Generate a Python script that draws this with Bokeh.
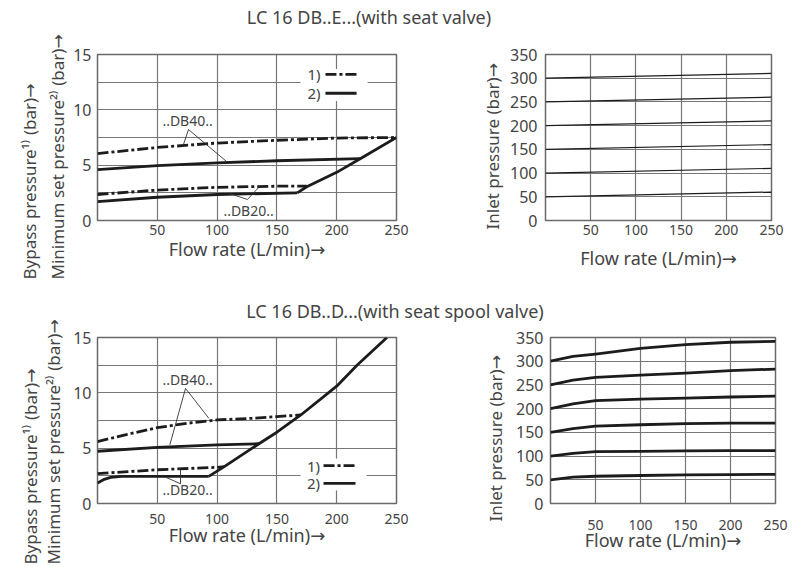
import math
from bokeh.plotting import figure
from bokeh.models import Range1d, FixedTicker, Label, BoxAnnotation, Arrow, Title
from bokeh.layouts import column, row
from bokeh.embed import file_html
from bokeh.resources import INLINE

# ---------------- data ----------------
titles = ["LC 16 DB..E...(with seat valve)", "LC 16 DB..D...(with seat spool valve)"]
x_label = "Flow rate (L/min)→"
ylab_left = ["Bypass pressure¹⁾ (bar)→", "Minimum set pressure²⁾ (bar)→"]
ylab_right = "Inlet pressure (bar)→"
flow_ticks = [50, 100, 150, 200, 250]
bypass_ticks = [0, 5, 10, 15]
bypass_grid = [2.5, 5, 7.5, 10, 12.5]
inlet_ticks = [0, 50, 100, 150, 200, 250, 300, 350]
inlet_grid = [50, 100, 150, 200, 250, 300]
flow_grid = [50, 100, 150, 200]
legend_labels = ["1)", "2)"]
db_labels = ["..DB40..", "..DB20.."]

# LC 16 DB..E... (seat valve) - bypass / minimum set pressure
e_db40_bypass_x = [0, 50, 100, 150, 200, 250]
e_db40_bypass_y = [6.05, 6.6, 7.0, 7.25, 7.45, 7.5]
e_db40_min_x = [0, 50, 100, 150, 220]
e_db40_min_y = [4.6, 4.95, 5.2, 5.4, 5.6]
e_db20_bypass_x = [0, 50, 100, 150, 175]
e_db20_bypass_y = [2.35, 2.75, 3.0, 3.1, 3.1]
e_db20_min_x = [0, 50, 100, 167]
e_db20_min_y = [1.7, 2.1, 2.35, 2.5]
e_limit_x = [167, 175, 200, 220, 250]
e_limit_y = [2.5, 3.05, 4.35, 5.6, 7.5]

# LC 16 DB..E... inlet pressure (start at 0 flow, end at 250 flow)
e_inlet_flow = [0, 250]
e_inlet_start = [50, 100, 150, 200, 250, 300]
e_inlet_end = [60, 110, 160, 210, 260, 310]

# LC 16 DB..D... (seat spool valve) - bypass / minimum set pressure
d_db40_bypass_x = [0, 25, 50, 75, 100, 130, 150, 170]
d_db40_bypass_y = [5.6, 6.25, 6.85, 7.25, 7.55, 7.7, 7.85, 8.0]
d_db40_min_x = [0, 50, 100, 135]
d_db40_min_y = [4.72, 5.08, 5.29, 5.4]
d_db20_bypass_x = [0, 50, 100, 106]
d_db20_bypass_y = [2.7, 3.05, 3.27, 3.33]
d_db20_min_x = [0, 5, 11, 20, 60, 93]
d_db20_min_y = [1.85, 2.15, 2.36, 2.45, 2.45, 2.45]
d_limit_x = [93, 106, 135, 150, 170, 193, 200, 217, 242]
d_limit_y = [2.45, 3.33, 5.4, 6.44, 8.0, 10.0, 10.6, 12.5, 15.0]

# LC 16 DB..D... inlet pressure curves
d_inlet_flow = [0, 25, 50, 100, 150, 200, 250]
d_inlet_300 = [300, 310, 315, 327, 335, 340, 342]
d_inlet_250 = [250, 260, 266, 270.5, 275, 280, 283.5]
d_inlet_200 = [200, 210, 217, 220, 222, 224.5, 226.5]
d_inlet_150 = [150, 158, 163, 166, 168.5, 169.5, 169.5]
d_inlet_100 = [100, 105.5, 109.5, 110, 111, 111.5, 111.5]
d_inlet_50 = [50, 55.5, 57.5, 59, 60.3, 61, 61.5]

# ---------------- style ----------------
FONT = "Noto Sans, DejaVu Sans"
TXT = "#444444"
GRID = "#767676"
FRAME = "#6a6a6a"
INK = "#1c1c1c"
DASHDOT = "11 3 3 3"
LW = 2.8


def base_fig(w, h, bl, br, bt, bb, ymax, yticks, ygrid, xstand=0, ystand=6, xlab_stand=0):
    p = figure(width=w, height=h, x_range=Range1d(0, 250), y_range=Range1d(0, ymax),
               output_backend="svg", toolbar_location=None,
               min_border_left=bl, min_border_right=br, min_border_top=bt, min_border_bottom=bb)
    p.background_fill_color = "white"
    p.border_fill_color = "white"
    p.outline_line_color = FRAME
    p.outline_line_width = 1.5
    p.xaxis.ticker = FixedTicker(ticks=flow_ticks)
    p.yaxis.ticker = FixedTicker(ticks=yticks)
    p.xgrid.ticker = FixedTicker(ticks=flow_grid)
    p.ygrid.ticker = FixedTicker(ticks=ygrid)
    p.grid.grid_line_color = GRID
    p.grid.grid_line_width = 1.2
    for ax in (p.xaxis, p.yaxis):
        ax.axis_line_color = None
        ax.major_tick_line_color = None
        ax.minor_tick_line_color = None
        ax.major_tick_out = 0
        ax.major_tick_in = 0
        ax.minor_tick_out = 0
        ax.minor_tick_in = 0
        ax.major_label_text_font = FONT
        ax.major_label_text_color = TXT
    p.xaxis.major_label_text_font_size = "14px"
    p.yaxis.major_label_text_font_size = "16px"
    p.xaxis.major_label_standoff = xstand
    p.yaxis.major_label_standoff = ystand
    p.xaxis.axis_label = x_label
    p.xaxis.axis_label_text_font = FONT
    p.xaxis.axis_label_text_font_size = "18px"
    p.xaxis.axis_label_text_font_style = "normal"
    p.xaxis.axis_label_text_color = TXT
    p.xaxis.axis_label_standoff = xlab_stand
    return p


def ylabels(p, texts, offset, standoffs, size="17px"):
    # texts listed from the frame outwards
    for t, so in zip(texts, standoffs):
        p.add_layout(Title(text=t, align="left", offset=offset, standoff=so,
                           text_font=FONT, text_font_size=size, text_font_style="normal",
                           text_color=TXT), "left")


def legend(p, box, x_text, x0, x1, ys):
    p.add_layout(BoxAnnotation(left=box[0], right=box[1], bottom=box[2], top=box[3],
                               fill_color="white", fill_alpha=1.0, line_alpha=0,
                               level="underlay"))
    for lab, yy, dash in zip(legend_labels, ys, [DASHDOT, "solid"]):
        p.add_layout(Arrow(x_start=x0, y_start=yy, x_end=x1, y_end=yy, start=None, end=None,
                           line_width=LW, line_color=INK, line_dash=dash))
        p.add_layout(Label(x=x_text, y=yy, text=lab, text_align="right", text_baseline="middle",
                           text_font=FONT, text_font_size="15px", text_color=TXT))


def note(p, x, y, text):
    p.add_layout(Label(x=x, y=y, text=text, text_align="center", text_baseline="middle",
                       text_font=FONT, text_font_size="14px", text_color=TXT))


def blank(w, h):
    t = figure(width=w, height=h, x_range=Range1d(0, w), y_range=Range1d(0, h),
               x_axis_type=None, y_axis_type=None, output_backend="svg",
               toolbar_location=None, min_border=0)
    t.outline_line_color = None
    return t


def title_strip(w, h, text, cx, cy):
    t = blank(w, h)
    t.add_layout(Label(x=cx, y=cy, text=text, text_align="center", text_baseline="middle",
                       text_font=FONT, text_font_size="18px", text_color=TXT))
    return t


# ---------------- top-left ----------------
p1 = base_fig(440, 255, 97, 44, 25, 64, 15, bypass_ticks, bypass_grid, xstand=4, ystand=6, xlab_stand=-1)
p1.line(e_db40_bypass_x, e_db40_bypass_y, line_width=LW, color=INK, line_dash=DASHDOT)
p1.line(e_db20_bypass_x, e_db20_bypass_y, line_width=LW, color=INK, line_dash=DASHDOT)
p1.line(e_db40_min_x, e_db40_min_y, line_width=LW, color=INK)
p1.line(e_db20_min_x, e_db20_min_y, line_width=LW, color=INK)
p1.line(e_limit_x, e_limit_y, line_width=LW, color=INK, line_join="round")
p1.line([71.9, 76.1, 107.9], [6.87, 8.22, 5.33], line_width=0.9, color="#333333")
p1.line([110.4, 125.4, 135.5], [2.44, 1.9, 3.07], line_width=0.9, color="#333333")
note(p1, 75.3, 9.0, db_labels[0])
note(p1, 126.3, 0.9, db_labels[1])
legend(p1, (169.7, 225.8, 10.8, 13.7), 186.5, 190.6, 216.6, [13.2, 11.5])
ylabels(p1, [ylab_left[1], ylab_left[0]], -59, [4, 2])

# ---------------- top-right ----------------
p2 = base_fig(359, 255, 105, 28, 14, 63, 350, inlet_ticks, inlet_grid, xstand=4, ystand=8, xlab_stand=8)
for s, e in zip(e_inlet_start, e_inlet_end):
    p2.line(e_inlet_flow, [s, e], line_width=1.2, color=INK)
ylabels(p2, [ylab_right], -9, [8])

# ---------------- bottom-left ----------------
p3 = base_fig(370, 244, 27, 44, 14, 64, 15, bypass_ticks, bypass_grid, xstand=10, ystand=6, xlab_stand=-4)
p3.line(d_db40_bypass_x, d_db40_bypass_y, line_width=LW, color=INK, line_dash=DASHDOT)
p3.line(d_db20_bypass_x, d_db20_bypass_y, line_width=LW, color=INK, line_dash=DASHDOT)
p3.line(d_db40_min_x, d_db40_min_y, line_width=LW, color=INK)
p3.line(d_db20_min_x, d_db20_min_y, line_width=LW, color=INK)
p3.line(d_limit_x, d_limit_y, line_width=LW, color=INK, line_join="round")
p3.line([93.1, 73.6, 60.5], [7.7, 10.4, 5.3], line_width=0.9, color="#333333")
p3.line([69.4, 69.4, 56.9], [3.19, 1.78, 2.38], line_width=0.9, color="#333333")
note(p3, 75.3, 11.2, db_labels[0])
note(p3, 75.3, 1.26, db_labels[1])
legend(p3, (169.7, 225.0, 1.17, 4.07), 186.0, 189.0, 215.7, [3.43, 1.81])

# rotated y-axis labels of the bottom-left chart, in their own side strip
side = blank(70, 283)
for xc, t in zip([29.5, 53], ylab_left):
    side.add_layout(Label(x=xc, y=3, text=t, angle=math.pi / 2, text_align="left",
                          text_baseline="middle", text_font=FONT, text_font_size="17px",
                          text_color=TXT))

# ---------------- bottom-right ----------------
p4 = base_fig(359, 244, 110, 24, 11, 58, 350, inlet_ticks, inlet_grid, xstand=16, ystand=7, xlab_stand=-5)
for ys in (d_inlet_50, d_inlet_100, d_inlet_150, d_inlet_200, d_inlet_250, d_inlet_300):
    p4.line(d_inlet_flow, ys, line_width=LW, color=INK, line_join="round")
ylabels(p4, [ylab_right], -18, [14])

t1 = title_strip(799, 29, titles[0], 368.5, 12.5)
t2 = title_strip(729, 39, titles[1], 324.5, 12.5)

layout = column(t1, row(p1, p2), row(side, column(t2, row(p3, p4))))
open("out.html", "w").write(file_html(layout, INLINE))
